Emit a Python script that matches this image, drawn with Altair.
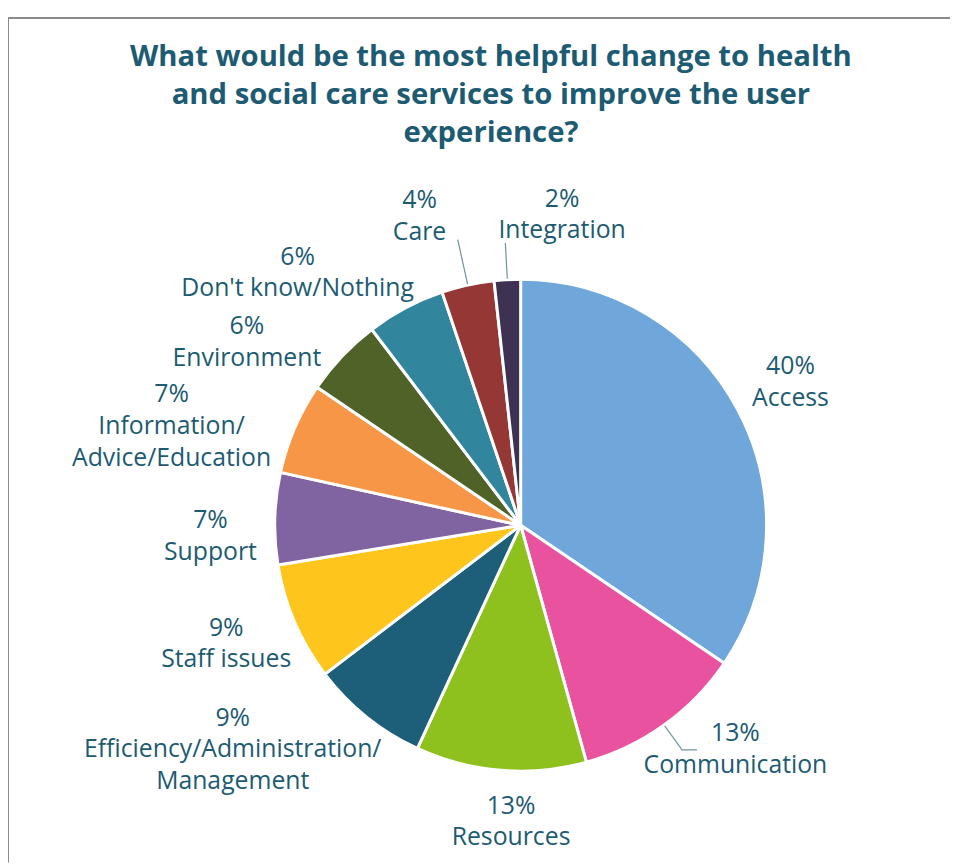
import math
import altair as alt
import pandas as pd

# ---------------- data ----------------
categories = [
    "Access", "Communication", "Resources", "Efficiency/Administration/Management",
    "Staff issues", "Support", "Information/Advice/Education", "Environment",
    "Don't know/Nothing", "Care", "Integration",
]
label_names = [
    "Access", "Communication", "Resources", "Efficiency/Administration/\nManagement",
    "Staff issues", "Support", "Information/\nAdvice/Education", "Environment",
    "Don't know/Nothing", "Care", "Integration",
]
values = [40, 13, 13, 9, 9, 7, 7, 6, 6, 4, 2]
colors = ["#6fa7db", "#e9529e", "#8fc11e", "#1d5f79", "#fec51c", "#8064a2",
          "#f79646", "#4f6228", "#31859c", "#953735", "#3f3151"]

title_lines = ["What would be the most helpful change to health",
               "and social care services to improve the user",
               "experience?"]

# ---------------- layout / style ----------------
CX, CY = 517, 518          # pie centre inside the view (px)
R = 248                    # pie radius (px)
TEXT = "#1d5b72"
FONT = "Open Sans"
LH = 32                    # label line height
# label placement: (angular shift from slice middle in degrees, distance from centre px)
LABEL_LAYOUT = {
    "Access": (0, 308), "Communication": (-8.1, 313), "Resources": (-2.8, 299),
    "Efficiency/Administration/Management": (13.3, 368), "Staff issues": (1.4, 320),
    "Support": (-3.6, 313), "Information/Advice/Education": (-7.4, 366),
    "Environment": (-9.7, 332), "Don't know/Nothing": (-13.5, 340),
    "Care": (-5.7, 328), "Integration": (10.7, 316),
}
# leader lines: (outer radius px, horizontal tail px)
LEADERS = {"Communication": (279, 15), "Care": (295, 0), "Integration": (285, 0)}

total = sum(values)
mids = []
acc = 0
for v in values:
    mids.append((acc + v / 2) / total * 2 * math.pi)
    acc += v

pie_df = pd.DataFrame({"category": categories, "value": values,
                       "idx": list(range(len(values)))})

lab_rows = []
for c, name, v, m in zip(categories, label_names, values, mids):
    shift, rad = LABEL_LAYOUT[c]
    text = f"{v}%\n{name}"
    n = text.count("\n") + 1
    t = m + math.radians(shift)
    # centre of the text block, then the anchor of its first line
    bx, by = rad * math.sin(t), -rad * math.cos(t)
    by -= (n - 1) * LH / 2
    lab_rows.append({"category": c, "label": text,
                     "theta": math.atan2(bx, -by) % (2 * math.pi),
                     "r": math.hypot(bx, by)})
lab_df = pd.DataFrame(lab_rows)

lead_rows = []
for c, m in zip(categories, mids):
    if c in LEADERS:
        r_out, tail = LEADERS[c]
        x0, y0 = CX + (R + 1) * math.sin(m), CY - (R + 1) * math.cos(m)
        x1, y1 = CX + r_out * math.sin(m), CY - r_out * math.cos(m)
        lead_rows += [{"category": c, "k": 0, "x": x0, "y": y0},
                      {"category": c, "k": 1, "x": x1, "y": y1}]
        if tail:
            lead_rows.append({"category": c, "k": 2, "x": x1 + tail, "y": y1})
lead_df = pd.DataFrame(lead_rows)

pie = alt.Chart(pie_df).mark_arc(outerRadius=R, stroke="white", strokeWidth=3).encode(
    theta=alt.Theta("value:Q", stack=True),
    color=alt.Color("category:N", scale=alt.Scale(domain=categories, range=colors), legend=None),
    order=alt.Order("idx:Q"),
    x=alt.value(CX), y=alt.value(CY),
)

labels = alt.Chart(lab_df).mark_text(
    font=FONT, fontSize=25, lineHeight=LH, color=TEXT, align="center",
    baseline="middle", lineBreak="\n",
).encode(
    theta=alt.Theta("theta:Q", scale=None),
    radius=alt.Radius("r:Q", scale=None),
    text="label:N",
    x=alt.value(CX), y=alt.value(CY),
)

leaders = alt.Chart(lead_df).mark_line(color="#6f93a1", strokeWidth=1.2).encode(
    x=alt.X("x:Q", scale=None, axis=None),
    y=alt.Y("y:Q", scale=None, axis=None),
    detail="category:N",
    order="k:Q",
)

frame_top = alt.Chart(pd.DataFrame({"a": [0]})).mark_rule(color="#8a8a8a", strokeWidth=2).encode(
    x=alt.value(0), x2=alt.value(950), y=alt.value(6.5))
frame_left = alt.Chart(pd.DataFrame({"a": [0]})).mark_rule(color="#8a8a8a", strokeWidth=2).encode(
    x=alt.value(0), y=alt.value(6), y2=alt.value(858))

chart = alt.layer(frame_top, frame_left, pie, leaders, labels).properties(
    width=950, height=858,
    autosize=alt.AutoSizeParams(type="none"),
    padding={"left": 0, "top": 0, "right": 0, "bottom": 0},
    title=alt.TitleParams(title_lines, anchor="middle", orient="top", offset=-161,
                          baseline="alphabetic", dx=12, font=FONT, fontSize=29.5,
                          fontWeight="bold", color=TEXT, lineHeight=38.5),
).configure_view(stroke=None)

chart.save("out.html", embed_options={"renderer": "svg", "actions": False})
